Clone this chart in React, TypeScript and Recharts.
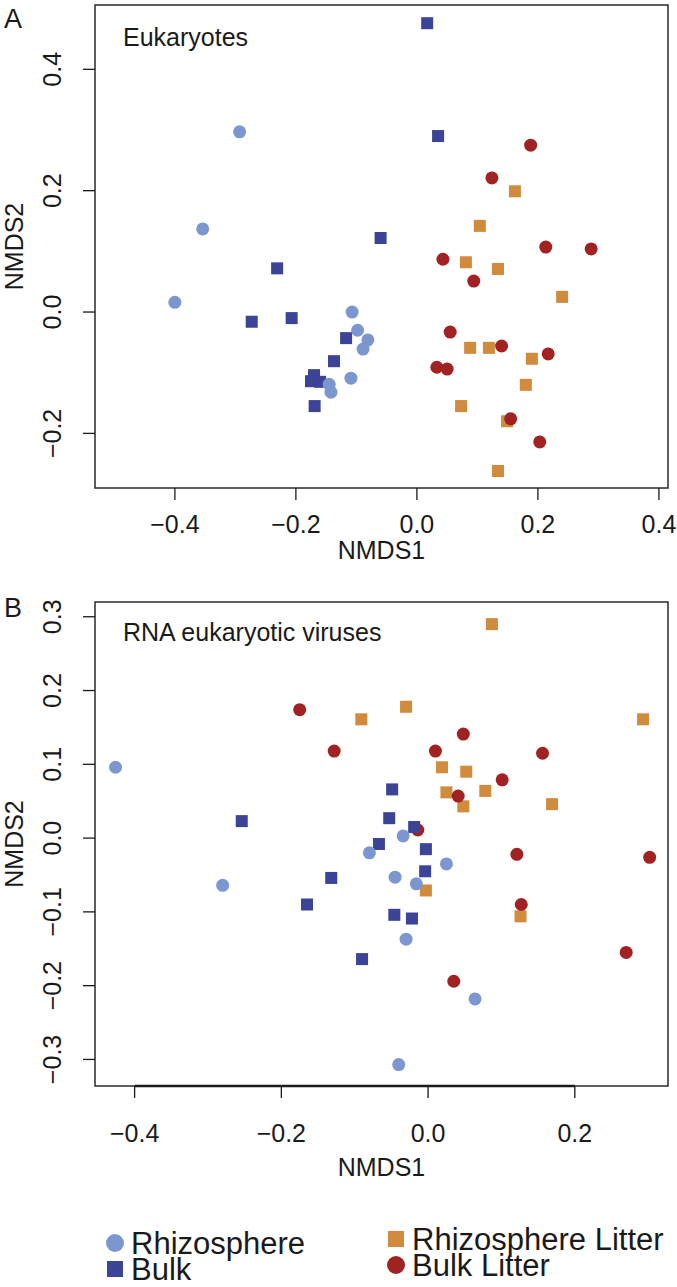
import { ScatterChart, Scatter, XAxis, YAxis, ReferenceArea, ReferenceLine } from 'recharts';

type Pt = { x: number; y: number };

// colours
const C_RHIZO = '#7C97CF';
const C_BULK = '#3B4496';
const C_RLIT = '#D08B3C';
const C_BLIT = '#A12222';

// Panel A: Eukaryotes
const aRhizosphere: Pt[] = [
  { x: -0.293, y: 0.297 }, { x: -0.354, y: 0.137 }, { x: -0.4, y: 0.016 },
  { x: -0.107, y: 0.0 }, { x: -0.098, y: -0.03 }, { x: -0.081, y: -0.046 },
  { x: -0.089, y: -0.061 }, { x: -0.109, y: -0.109 }, { x: -0.145, y: -0.119 },
  { x: -0.142, y: -0.132 },
];
const aBulk: Pt[] = [
  { x: 0.017, y: 0.476 }, { x: 0.035, y: 0.29 }, { x: -0.06, y: 0.122 },
  { x: -0.231, y: 0.072 }, { x: -0.207, y: -0.01 }, { x: -0.273, y: -0.016 },
  { x: -0.117, y: -0.043 }, { x: -0.137, y: -0.081 }, { x: -0.17, y: -0.104 },
  { x: -0.175, y: -0.114 }, { x: -0.16, y: -0.115 }, { x: -0.169, y: -0.155 },
];
const aRhizoLitter: Pt[] = [
  { x: 0.162, y: 0.199 }, { x: 0.104, y: 0.142 }, { x: 0.081, y: 0.082 },
  { x: 0.134, y: 0.071 }, { x: 0.24, y: 0.025 }, { x: 0.088, y: -0.059 },
  { x: 0.119, y: -0.059 }, { x: 0.19, y: -0.077 }, { x: 0.18, y: -0.12 },
  { x: 0.073, y: -0.155 }, { x: 0.149, y: -0.18 }, { x: 0.134, y: -0.262 },
];
const aBulkLitter: Pt[] = [
  { x: 0.188, y: 0.275 }, { x: 0.124, y: 0.221 }, { x: 0.213, y: 0.107 },
  { x: 0.288, y: 0.104 }, { x: 0.043, y: 0.087 }, { x: 0.094, y: 0.051 },
  { x: 0.055, y: -0.033 }, { x: 0.14, y: -0.056 }, { x: 0.217, y: -0.069 },
  { x: 0.033, y: -0.091 }, { x: 0.05, y: -0.094 }, { x: 0.155, y: -0.176 },
  { x: 0.203, y: -0.214 },
];

// Panel B: RNA eukaryotic viruses
const bRhizosphere: Pt[] = [
  { x: -0.426, y: 0.096 }, { x: -0.28, y: -0.064 }, { x: -0.08, y: -0.02 },
  { x: -0.034, y: 0.003 }, { x: 0.025, y: -0.035 }, { x: -0.045, y: -0.053 },
  { x: -0.016, y: -0.062 }, { x: -0.03, y: -0.137 }, { x: 0.064, y: -0.218 },
  { x: -0.04, y: -0.307 },
];
const bBulk: Pt[] = [
  { x: -0.254, y: 0.023 }, { x: -0.049, y: 0.066 }, { x: -0.053, y: 0.027 },
  { x: -0.067, y: -0.008 }, { x: -0.019, y: 0.015 }, { x: -0.003, y: -0.015 },
  { x: -0.004, y: -0.045 }, { x: -0.132, y: -0.054 }, { x: -0.165, y: -0.09 },
  { x: -0.046, y: -0.104 }, { x: -0.022, y: -0.109 }, { x: -0.09, y: -0.164 },
];
const bRhizoLitter: Pt[] = [
  { x: 0.087, y: 0.29 }, { x: -0.03, y: 0.178 }, { x: -0.091, y: 0.161 },
  { x: 0.293, y: 0.161 }, { x: 0.019, y: 0.096 }, { x: 0.052, y: 0.09 },
  { x: 0.025, y: 0.062 }, { x: 0.078, y: 0.064 }, { x: 0.048, y: 0.043 },
  { x: 0.169, y: 0.046 }, { x: -0.003, y: -0.071 }, { x: 0.126, y: -0.106 },
];
const bBulkLitter: Pt[] = [
  { x: -0.175, y: 0.174 }, { x: -0.128, y: 0.118 }, { x: 0.048, y: 0.141 },
  { x: 0.01, y: 0.118 }, { x: 0.156, y: 0.115 }, { x: 0.101, y: 0.079 },
  { x: 0.041, y: 0.057 }, { x: -0.014, y: 0.011 }, { x: 0.121, y: -0.022 },
  { x: 0.302, y: -0.026 }, { x: 0.127, y: -0.09 }, { x: 0.27, y: -0.155 },
  { x: 0.035, y: -0.194 },
];

const aTicksX = [-0.4, -0.2, 0, 0.2, 0.4];
const aTicksY = [-0.2, 0, 0.2, 0.4];
const bTicksX = [-0.4, -0.2, 0, 0.2];
const bTicksY = [-0.3, -0.2, -0.1, 0, 0.1, 0.2, 0.3];

const aDomX: [number, number] = [-0.532, 0.415];
const aDomY: [number, number] = [-0.29, 0.506];
const bDomX: [number, number] = [-0.454, 0.327];
const bDomY: [number, number] = [-0.336, 0.32];

const FONT = '"Liberation Sans", Arial, Helvetica, sans-serif';
const INK = '#1a1a1a';

const fmt = (v: number) => v.toFixed(1).replace('-', '\u2212');

const dot = (color: string) => (p: any) => <circle cx={p.cx} cy={p.cy} r={6.5} fill={color} />;
const sq = (color: string) => (p: any) => (
  <rect x={p.cx - 6} y={p.cy - 6} width={12} height={12} fill={color} />
);

const RotTick = (props: any) => {
  const { x, y, payload } = props;
  const bx = x - 22;
  return (
    <text x={bx} y={y} transform={`rotate(-90 ${bx} ${y})`} textAnchor="middle" fontSize={25} fill={INK}>
      {fmt(payload.value)}
    </text>
  );
};

interface PanelProps {
  height: number;
  top: number;
  axisH: number;
  tickGap: number;
  titleOff: number;
  domX: [number, number];
  domY: [number, number];
  ticksX: number[];
  ticksY: number[];
  rhizo: Pt[];
  bulk: Pt[];
  rlit: Pt[];
  blit: Pt[];
  axisSeg?: [number, number];
}

function Panel(p: PanelProps) {
  return (
    <ScatterChart
      width={677}
      height={p.height}
      margin={{ top: p.top, right: 9, left: 0, bottom: 0 }}
    >
      <XAxis
        type="number"
        dataKey="x"
        domain={p.domX}
        ticks={p.ticksX}
        allowDataOverflow
        tickFormatter={fmt}
        height={p.axisH}
        tickSize={12}
        tickMargin={p.tickGap}
        axisLine={false}
        tickLine={{ stroke: INK, strokeWidth: 1.3 }}
        tick={{ fontSize: 25, fill: INK }}
        label={{ value: 'NMDS1', position: 'insideBottom', offset: p.titleOff, fontSize: 25, fill: INK }}
      />
      <YAxis
        type="number"
        dataKey="y"
        domain={p.domY}
        ticks={p.ticksY}
        allowDataOverflow
        width={95}
        tickSize={12}
        tickMargin={0}
        axisLine={false}
        tickLine={{ stroke: INK, strokeWidth: 1.3 }}
        tick={<RotTick />}
        label={{
          value: 'NMDS2',
          angle: -90,
          position: 'insideLeft',
          offset: 14,
          fontSize: 25,
          fill: INK,
          style: { textAnchor: 'middle' },
        }}
      />
      <ReferenceArea
        x1={p.domX[0]}
        x2={p.domX[1]}
        y1={p.domY[0]}
        y2={p.domY[1]}
        fill="none"
        fillOpacity={0}
        stroke="#2a2a2a"
        strokeWidth={1.5}
      />
      {p.axisSeg && (
        <ReferenceLine
          segment={[
            { x: p.axisSeg[0], y: p.domY[0] },
            { x: p.axisSeg[1], y: p.domY[0] },
          ]}
          stroke={INK}
          strokeWidth={2.5}
        />
      )}
      <Scatter data={p.rlit} shape={sq(C_RLIT)} isAnimationActive={false} />
      <Scatter data={p.blit} shape={dot(C_BLIT)} isAnimationActive={false} />
      <Scatter data={p.bulk} shape={sq(C_BULK)} isAnimationActive={false} />
      <Scatter data={p.rhizo} shape={dot(C_RHIZO)} isAnimationActive={false} />
    </ScatterChart>
  );
}

export default function App() {
  return (
    <div
      style={{
        position: 'absolute',
        left: 0,
        top: 0,
        width: 677,
        height: 1287,
        background: '#fff',
        fontFamily: FONT,
        overflow: 'hidden',
      }}
    >
      <div style={{ position: 'absolute', left: 0, top: 0 }}>
        <Panel
          height={575}
          top={5}
          axisH={87}
          tickGap={15}
          titleOff={16}
          domX={aDomX}
          domY={aDomY}
          ticksX={aTicksX}
          ticksY={aTicksY}
          rhizo={aRhizosphere}
          bulk={aBulk}
          rlit={aRhizoLitter}
          blit={aBulkLitter}
        />
      </div>
      <div style={{ position: 'absolute', left: 0, top: 575 }}>
        <Panel
          height={605}
          top={27}
          axisH={94}
          tickGap={26}
          titleOff={4}
          domX={bDomX}
          domY={bDomY}
          ticksX={bTicksX}
          ticksY={bTicksY}
          rhizo={bRhizosphere}
          bulk={bBulk}
          rlit={bRhizoLitter}
          blit={bBulkLitter}
          axisSeg={[-0.4, 0.2]}
        />
      </div>
      {/* panel letters, panel titles and legend */}
      <svg
        width={677}
        height={1287}
        style={{ position: 'absolute', left: 0, top: 0, pointerEvents: 'none' }}
        fontFamily={FONT}
        fill={INK}
      >
        <text x={4} y={28} fontSize={27}>A</text>
        <text x={4} y={617} fontSize={27}>B</text>
        <text x={123} y={46} fontSize={25}>Eukaryotes</text>
        <text x={123} y={641} fontSize={25}>RNA eukaryotic viruses</text>

        <circle cx={115} cy={1243} r={9} fill={C_RHIZO} />
        <text x={131} y={1254} fontSize={31}>Rhizosphere</text>
        <rect x={107} y={1261} width={16} height={16} fill={C_BULK} />
        <text x={131} y={1280} fontSize={31}>Bulk</text>
        <rect x={388} y={1231} width={16} height={16} fill={C_RLIT} />
        <text x={412} y={1250} fontSize={31}>Rhizosphere Litter</text>
        <circle cx={396} cy={1265} r={9} fill={C_BLIT} />
        <text x={412} y={1276} fontSize={31}>Bulk Litter</text>
      </svg>
    </div>
  );
}
